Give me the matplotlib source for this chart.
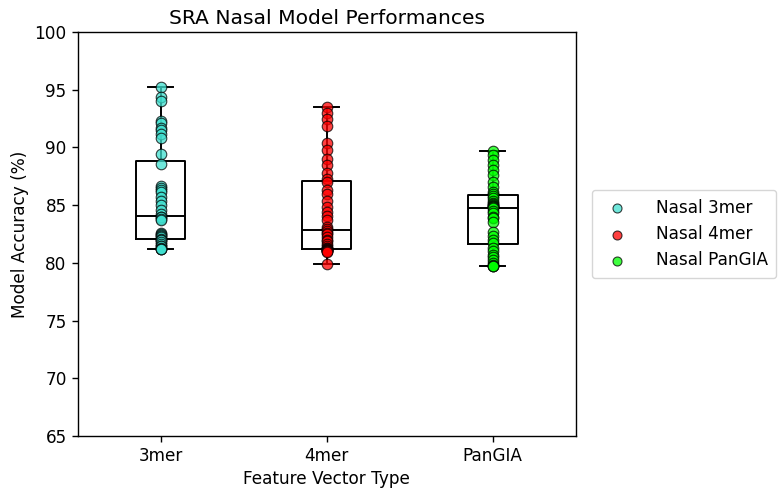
import matplotlib
matplotlib.use("Agg")
import matplotlib.pyplot as plt
import numpy as np

categories = ["3mer", "4mer", "PanGIA"]
legend_labels = ["Nasal 3mer", "Nasal 4mer", "Nasal PanGIA"]
colors = ["turquoise", "red", "lime"]

acc_3mer = [95.2, 94.4, 94.0, 92.3, 92.1, 91.7, 91.5, 91.2, 90.8, 89.4,
            88.6, 86.7, 86.5, 86.3, 86.1, 85.7, 85.4, 85.0, 84.6, 84.2,
            84.0, 84.0, 83.8, 83.7, 82.6, 82.5, 82.4, 82.3, 82.2, 82.1,
            82.0, 82.0, 81.8, 81.6, 81.5, 81.5, 81.3, 81.2, 81.2, 81.2]
acc_4mer = [93.5, 93.0, 92.5, 91.85, 90.35, 89.8, 89.0, 88.5, 87.75, 87.3,
            87.0, 86.3, 86.0, 85.4, 84.8, 84.4, 84.1, 83.7, 83.1, 82.9,
            82.8, 82.6, 82.5, 82.2, 82.0, 81.9, 81.6, 81.5, 81.3, 81.25,
            81.2, 81.2, 81.15, 81.1, 81.1, 81.05, 81.0, 81.0, 80.9, 79.9]
acc_pangia = [89.72, 89.34, 88.91, 88.47, 88.04, 87.6, 87.03, 86.6, 86.16, 86.0,
              85.8, 85.6, 85.4, 85.2, 85.1, 85.0, 84.95, 84.9, 84.85, 84.8,
              84.76, 84.5, 84.3, 84.0, 83.86, 83.5, 82.7, 82.3, 82.0, 81.7,
              81.26, 81.0, 80.7, 80.53, 80.24, 79.95, 79.8, 79.72, 79.72, 79.72]
series = [acc_3mer, acc_4mer, acc_pangia]

plt.rcParams["font.size"] = 12.2
plt.rcParams["axes.linewidth"] = 1.0
plt.rcParams["xtick.major.width"] = 1.0
plt.rcParams["ytick.major.width"] = 1.0
plt.rcParams["xtick.major.size"] = 4.3
plt.rcParams["ytick.major.size"] = 4.3

fig, ax = plt.subplots(figsize=(7.8, 4.96), dpi=100)
fig.subplots_adjust(left=0.0994, right=0.738, top=0.9355, bottom=0.121)

positions = np.arange(1, len(categories) + 1)
lw = 1.4
ax.boxplot(series, positions=positions, widths=0.3, showfliers=False,
           boxprops=dict(color="black", linewidth=lw),
           whiskerprops=dict(color="black", linewidth=lw),
           capprops=dict(color="black", linewidth=lw),
           medianprops=dict(color="black", linewidth=lw))
for pos, vals, col, lab in zip(positions, series, colors, legend_labels):
    ax.scatter([pos] * len(vals), vals, s=58, color=col, alpha=0.75,
               edgecolors="black", linewidths=0.8, label=lab, zorder=3)

ax.set_xticks(positions)
ax.set_xticklabels(categories)
ax.set_xlim(0.5, 3.5)
ax.set_ylim(65, 100)
ax.set_xlabel("Feature Vector Type")
ax.set_ylabel("Model Accuracy (%)")
ax.set_title("SRA Nasal Model Performances", fontsize=14.6)
ax.legend(loc="center left", bbox_to_anchor=(1.015, 0.5), handletextpad=1.3,
          markerscale=0.85, borderpad=0.5)

fig.savefig("out.png", dpi=100)
